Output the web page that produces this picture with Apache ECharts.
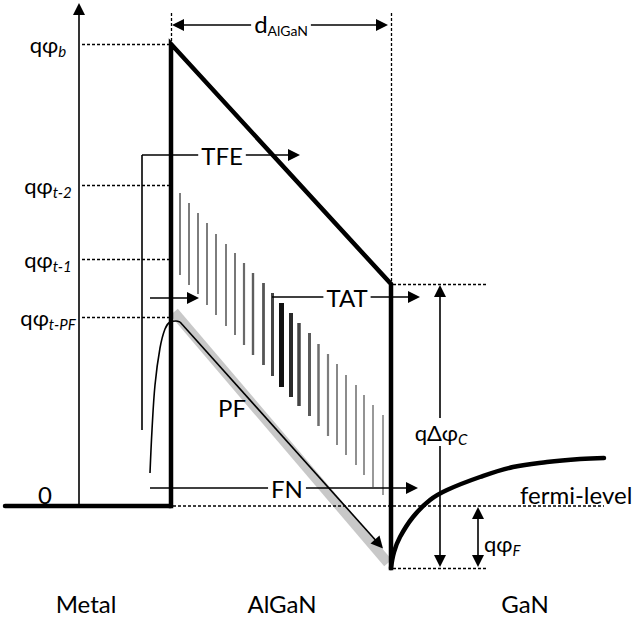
<!DOCTYPE html>
<html>
<head>
<meta charset="utf-8">
<title>AlGaN band diagram</title>
<script src="https://cdn.jsdelivr.net/npm/echarts@6/dist/echarts.min.js"></script>
<style>
  html, body { margin: 0; padding: 0; background: #fff; }
  #chart { width: 632px; height: 620px; }
</style>
</head>
<body>
<div id="chart"></div>
<script>
// drawing units: x to the right (0..632), y downwards (0..620)
var FONT = 'Lato, "Open Sans", sans-serif';

// conduction band edge
var metalLevel = [[5, 506], [171, 506]];
var barrierEdge = [[171, 506], [171, 44], [391, 284], [391, 568]];
// GaN band bending
var ganX = [391, 394, 400, 413, 430, 447, 480, 513, 547, 580, 604];
var ganY = [568, 552, 537, 517, 500, 490, 477, 467, 462, 459, 458];

// PF emission: hump at the interface, then down the barrier
var pfX = [150, 152, 155, 160, 165, 170, 176, 180];
var pfY = [473, 430, 385, 348, 329, 322, 321, 322];
var pfBand = [[174, 312], [388, 563]];

// trap assisted tunnelling hatch
var hatchX = [180, 189, 198, 207, 216, 226, 235, 244, 253, 263, 272, 281, 291, 299, 309, 318, 328, 337, 346, 356, 364, 373, 383];
var hatchTop = [193, 203, 213, 223, 234, 244, 253, 263, 273, 283, 293, 303, 313, 323, 333, 344, 354, 364, 375, 385, 395, 405, 415];
var hatchBottom = [275, 285, 294, 305, 315, 326, 335, 345, 355, 365, 376, 387, 397, 406, 416, 426, 436, 445, 455, 465, 475, 487, 495];
var hatchColor = ['#7d7d7d', '#7d7d7d', '#7d7d7d', '#7d7d7d', '#7d7d7d', '#7d7d7d', '#777', '#6a6a6a', '#5e5e5e', '#555', '#444', '#111', '#2a2a2a', '#444', '#5a5a5a', '#6e6e6e', '#7d7d7d', '#888', '#8c8c8c', '#909090', '#939393', '#999', '#9c9c9c'];
var hatchWidth = [2, 2, 2, 2, 2, 2, 2, 2.2, 2.4, 2.8, 3, 5, 4, 3.5, 3, 2.5, 2.2, 2, 2, 2, 2, 2, 2];

// energy levels (left labels) and dotted guides
var levelNames = ['b', 't-2', 't-1', 't-PF'];
var levelY = [44, 185, 259, 317];
var guideDotted = [
  [[171, 13], [171, 44]],
  [[391, 13], [391, 284]],
  [[393, 284], [486, 284]],
  [[393, 568], [486, 568]]
];
var fermiLine = [[173, 506], [604, 506]];

// transport arrows
var bracketTFE = [[142, 430], [142, 155]];
var arrowTFE = [[142, 155], [294, 155]];
var arrowIn = [[150, 298], [193, 298]];
var arrowTAT = [[272, 297], [414, 297]];
var arrowFN = [[150, 488], [412, 488]];
var arrowPF = [[180, 322], [379, 544]];
var arrowAxis = [[79, 506], [79, 9]];
// dimension arrows (both ends)
var dimD = [[178, 25], [382, 25]];
var dimDC = [[440, 291], [440, 561]];
var dimF = [[478, 513], [478, 561]];

// text
var labelText = ['0', 'TFE', 'TAT', 'FN', 'PF', '{d|d}{ds|AlGaN}', '{q|qΔφ}{s|C}', '{q|qφ}{s|F}', 'fermi-level', 'Metal', 'AlGaN', 'GaN'];
var labelX = [45, 222, 347, 287, 232, 281, 441, 484, 520, 86, 282, 525];
var labelY = [494, 155, 297, 488, 407, 23, 432, 543, 494, 603, 603, 603];
var labelAlign = ['center', 'center', 'center', 'center', 'center', 'center', 'center', 'left', 'left', 'center', 'center', 'center'];
var labelBox = [false, true, true, true, false, true, true, false, false, false, false, false];

var RICH = {
  q: { fontSize: 22, fontFamily: FONT, lineHeight: 28 },
  s: { fontSize: 15, fontFamily: FONT, fontStyle: 'italic', lineHeight: 11, verticalAlign: 'bottom' },
  d: { fontSize: 24, fontFamily: FONT, lineHeight: 28 },
  ds: { fontSize: 14, fontFamily: FONT, lineHeight: 10, verticalAlign: 'bottom' }
};

levelNames.forEach(function (n, i) {
  labelText.push('{q|qφ}{s|' + n + '}');
  labelX.push(48);
  labelY.push(levelY[i]);
  labelAlign.push('center');
  labelBox.push(false);
});

function seg(coords) { return { coords: coords }; }

var chart = echarts.init(document.getElementById('chart'), null, { renderer: 'svg' });

var hatchData = hatchX.map(function (x, i) {
  return {
    coords: [[x, hatchTop[i]], [x, hatchBottom[i]]],
    lineStyle: { color: hatchColor[i], width: hatchWidth[i] }
  };
});

var dottedData = levelY.map(function (y) { return seg([[82, y], [169, y]]); })
  .concat(guideDotted.map(seg));

chart.setOption({
  animation: false,
  grid: { left: 0, right: 0, top: 0, bottom: 0 },
  xAxis: { type: 'value', min: 0, max: 632, show: false },
  yAxis: { type: 'value', min: 0, max: 620, inverse: true, show: false },
  series: [
    {
      name: 'PF band', type: 'lines', coordinateSystem: 'cartesian2d', z: 1,
      lineStyle: { color: '#c8c8c8', width: 10, opacity: 1, cap: 'butt' },
      data: [seg(pfBand)]
    },
    {
      name: 'TAT', type: 'lines', coordinateSystem: 'cartesian2d', z: 2,
      lineStyle: { opacity: 1 },
      data: hatchData
    },
    {
      name: 'guides', type: 'lines', coordinateSystem: 'cartesian2d', z: 2,
      lineStyle: { color: '#000', width: 1.3, type: [3, 2], opacity: 1 },
      data: dottedData
    },
    {
      name: 'fermi', type: 'lines', coordinateSystem: 'cartesian2d', z: 2,
      lineStyle: { color: '#000', width: 1.6, type: [3, 2], opacity: 1 },
      data: [seg(fermiLine)]
    },
    {
      name: 'barrier', type: 'line', z: 5, symbol: 'none',
      lineStyle: { color: '#000', width: 4.5, join: 'miter', cap: 'square' },
      data: barrierEdge
    },
    {
      name: 'metal', type: 'line', z: 5, symbol: 'none',
      lineStyle: { color: '#000', width: 4.5, cap: 'round' },
      data: metalLevel
    },
    {
      name: 'GaN', type: 'line', z: 5, symbol: 'none', smooth: 0.4,
      lineStyle: { color: '#000', width: 4.5, cap: 'round' },
      data: ganX.map(function (x, i) { return [x, ganY[i]]; })
    },
    {
      name: 'PF hump', type: 'line', z: 4, symbol: 'none', smooth: 0.35,
      lineStyle: { color: '#000', width: 1.6 },
      data: pfX.map(function (x, i) { return [x, pfY[i]]; })
    },
    {
      name: 'plain', type: 'lines', coordinateSystem: 'cartesian2d', z: 3,
      lineStyle: { color: '#000', width: 1.6, opacity: 1 },
      data: [seg(bracketTFE)]
    },
    {
      name: 'arrows', type: 'lines', coordinateSystem: 'cartesian2d', z: 4,
      symbol: ['none', 'triangle'], symbolSize: 12,
      lineStyle: { color: '#000', width: 1.6, opacity: 1 },
      data: [arrowTFE, arrowIn, arrowTAT, arrowFN, arrowPF, arrowAxis].map(seg)
    },
    {
      name: 'dimensions', type: 'lines', coordinateSystem: 'cartesian2d', z: 4,
      symbol: ['triangle', 'triangle'], symbolSize: 12,
      lineStyle: { color: '#000', width: 1.6, opacity: 1 },
      data: [dimD, dimDC, dimF].map(seg)
    },
    {
      name: 'labels', type: 'custom', z: 10, silent: true,
      data: labelX.map(function (x, i) { return [x, labelY[i]]; }),
      renderItem: function (params, api) {
        var i = params.dataIndex;
        var p = api.coord([labelX[i], labelY[i]]);
        return {
          type: 'text',
          x: p[0],
          y: p[1],
          z2: 100,
          style: {
            text: labelText[i],
            fontSize: 24,
            fontFamily: FONT,
            fill: '#000',
            align: labelAlign[i],
            verticalAlign: 'middle',
            rich: RICH,
            backgroundColor: labelBox[i] ? '#fff' : 'transparent',
            padding: labelBox[i] ? [0, 3] : 0
          }
        };
      }
    }
  ]
});
</script>
</body>
</html>
